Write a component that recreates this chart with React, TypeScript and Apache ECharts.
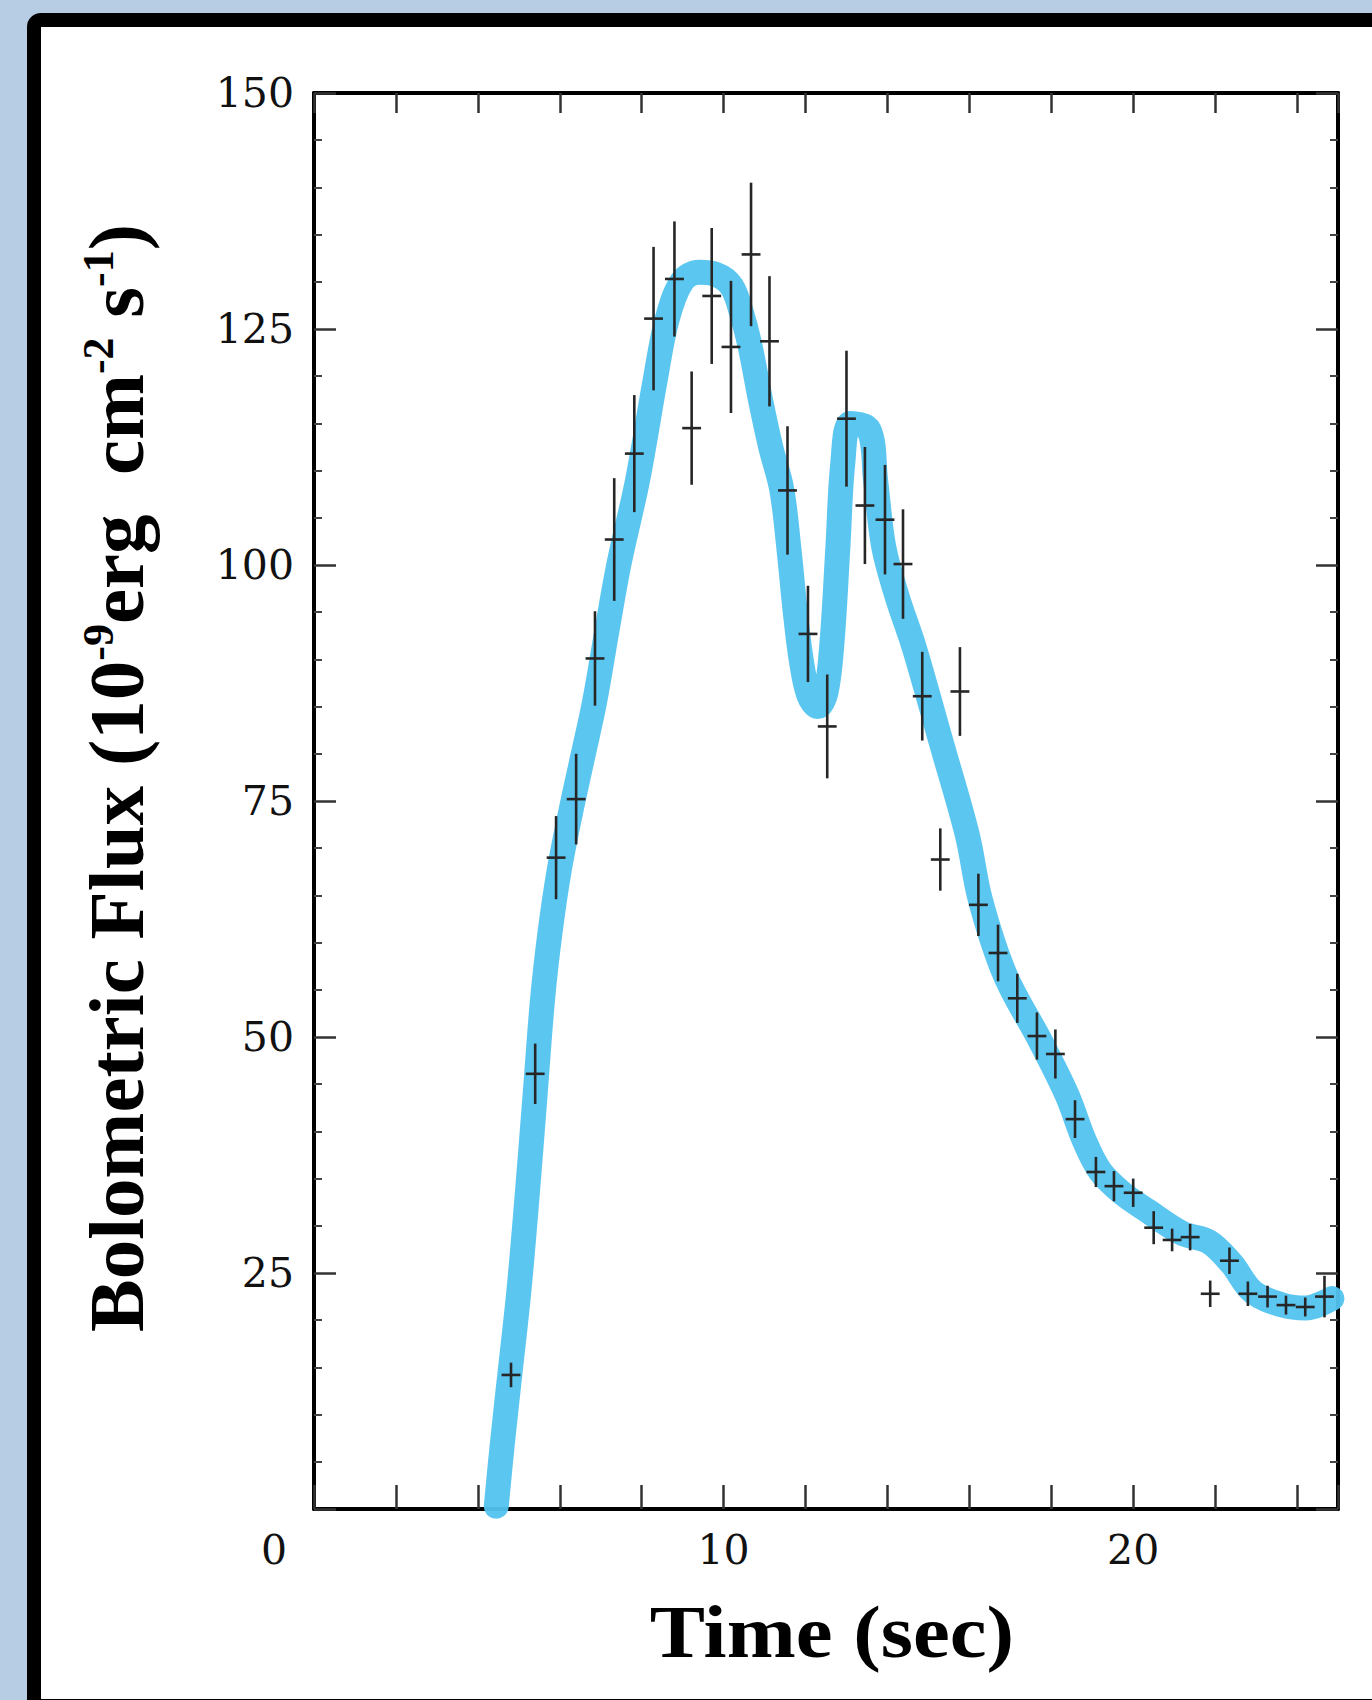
import React, { useEffect, useRef } from 'react';
import * as echarts from 'echarts';

// Smooth model curve (blue band)
const curveTime = [4.45, 4.6, 4.8, 5.0, 5.2, 5.4, 5.58, 5.76, 5.98, 6.25, 6.55, 6.85, 7.15, 7.45, 7.9, 8.33, 8.62, 8.98, 9.4, 9.8, 10.2, 10.45, 10.65, 10.9, 11.15, 11.42, 11.6, 11.75, 11.9, 12.08, 12.3, 12.5, 12.65, 12.79, 12.91, 13.1, 13.55, 13.71, 13.91, 14.24, 14.65, 15.32, 15.95, 16.27, 16.88, 17.73, 18.39, 18.79, 19.19, 19.72, 20.38, 21.2, 21.85, 22.4, 22.92, 23.65, 24.22, 24.85];
const curveFlux = [0.3, 7.0, 15.0, 23.0, 33.0, 44.0, 54.0, 61.0, 67.5, 73.5, 79.5, 85.5, 93.0, 100.2, 109.0, 119.6, 126.0, 130.0, 131.0, 130.8, 129.5, 126.5, 123.1, 117.5, 112.5, 108.0, 101.5, 95.0, 89.8, 86.2, 85.0, 86.5, 92.0, 101.9, 110.8, 115.0, 114.3, 109.0, 101.9, 96.6, 91.3, 81.1, 71.4, 64.5, 56.5, 49.6, 43.8, 39.2, 35.8, 33.5, 31.5, 29.2, 28.3, 26.0, 23.0, 21.6, 21.3, 22.3];

// Observed data points with error bars
const obsTime = [4.81, 5.4, 5.91, 6.4, 6.86, 7.33, 7.82, 8.29, 8.8, 9.22, 9.71, 10.18, 10.67, 11.12, 11.56, 12.06, 12.53, 13.0, 13.45, 13.94, 14.38, 14.85, 15.29, 15.77, 16.22, 16.7, 17.17, 17.65, 18.1, 18.58, 19.09, 19.53, 20.0, 20.5, 20.95, 21.39, 21.88, 22.35, 22.8, 23.28, 23.73, 24.2, 24.67];
const obsFlux = [14.2, 46.1, 69.0, 75.2, 90.1, 102.7, 111.8, 126.1, 130.3, 114.5, 128.5, 123.1, 132.9, 123.7, 107.9, 92.7, 82.9, 115.5, 106.3, 104.8, 100.1, 86.1, 68.8, 86.6, 64.0, 58.9, 54.1, 50.1, 48.2, 41.3, 35.7, 34.2, 33.5, 29.8, 28.5, 28.8, 22.8, 26.3, 22.8, 22.5, 21.6, 21.4, 22.5];
const obsErr = [1.3, 3.2, 4.4, 4.8, 5.0, 6.5, 6.2, 7.6, 6.1, 6.0, 7.2, 7.0, 7.6, 6.9, 6.8, 5.1, 5.5, 7.2, 6.2, 5.8, 5.8, 4.7, 3.3, 4.7, 3.3, 3.0, 2.6, 2.5, 2.6, 2.0, 1.6, 1.6, 1.5, 1.75, 1.2, 1.4, 1.4, 1.4, 1.3, 1.15, 1.0, 1.0, 2.2];

const xLabelValues = [0, 10, 20];
const yLabelValues = [25, 50, 75, 100, 125, 150];
const xTitle = 'Time (sec)';
const yTitleParts = ['Bolometric Flux (10', '-9', 'erg  cm', '-2', ' s', '-1', ')'];

export default function App() {
  const ref = useRef<HTMLDivElement>(null);

  useEffect(() => {
    if (!ref.current) return;
    const chart = echarts.init(ref.current, null, { renderer: 'svg' });

    const curveData = curveTime.map((t, i) => [t, curveFlux[i]]);
    const obsData = obsTime.map((t, i) => [t, obsFlux[i], obsErr[i]]);
    const HALF = 0.23;
    const barColor = '#262626';

    const labelFont = 'DejaVu Serif';
    const titleFont = 'Liberation Serif';
    const lineCol = '#000';
    const tickStyle = { color: '#333', width: 2.5 };

    const yRich = yTitleParts
      .map((p, i) => (i % 2 === 0 ? `{m|${p}}` : `{s|${p}}`))
      .join('');

    const xLabelFmt = (v: number) => {
      if (v === 0) return '{o|0}';
      return xLabelValues.includes(v) ? String(v) : '';
    };
    const yLabelFmt = (v: number) => (yLabelValues.includes(v) ? String(v) : '');

    const baseX = {
      type: 'value',
      min: 0,
      max: 25,
      interval: 2,
      splitLine: { show: false },
      axisLine: { show: true, onZero: false, lineStyle: { color: lineCol, width: 4 } },
    };
    const baseY = {
      type: 'value',
      min: 0,
      max: 150,
      interval: 25,
      splitLine: { show: false },
      axisLine: { show: true, onZero: false, lineStyle: { color: lineCol, width: 4 } },
      minorTick: { show: true, splitNumber: 5, length: 8, lineStyle: { color: '#444', width: 2 } },
    };

    const option: any = {
      animation: false,
      grid: { left: 314, top: 93, right: 34, bottom: 191, show: false },
      xAxis: [
        {
          ...baseX,
          position: 'bottom',
          axisTick: { show: true, inside: true, length: 24, lineStyle: tickStyle },
          axisLabel: {
            show: true,
            margin: 20,
            fontFamily: labelFont,
            fontSize: 41,
            color: '#111',
            formatter: xLabelFmt,
            rich: {
              o: { fontFamily: labelFont, fontSize: 41, color: '#111', padding: [0, 80, 0, 0] },
            },
          },
        },
        {
          ...baseX,
          position: 'top',
          axisTick: { show: true, inside: true, length: 20, lineStyle: tickStyle },
          axisLabel: { show: false },
        },
      ],
      yAxis: [
        {
          ...baseY,
          position: 'left',
          axisTick: { show: true, inside: true, length: 22, lineStyle: tickStyle },
          axisLabel: {
            show: true,
            margin: 20,
            fontFamily: labelFont,
            fontSize: 41,
            color: '#111',
            formatter: yLabelFmt,
          },
        },
        {
          ...baseY,
          position: 'right',
          axisTick: { show: true, inside: true, length: 22, lineStyle: tickStyle },
          axisLabel: { show: false },
        },
      ],
      graphic: [
        {
          type: 'text',
          x: 116,
          y: 778,
          rotation: Math.PI / 2,
          style: {
            text: yRich,
            align: 'center',
            verticalAlign: 'middle',
            fill: '#000',
            rich: {
              m: { fontFamily: titleFont, fontWeight: 'bold', fontSize: 79, fill: '#000' },
              s: { fontFamily: titleFont, fontWeight: 'bold', fontSize: 44, fill: '#000', verticalAlign: 'top' },
            },
          },
        },
        {
          type: 'text',
          x: 832,
          y: 1632,
          scaleX: 1.12,
          style: {
            text: xTitle,
            align: 'center',
            verticalAlign: 'middle',
            fill: '#000',
            fontFamily: titleFont,
            fontWeight: 'bold',
            fontSize: 74,
          },
        },
      ],
      series: [
        {
          type: 'line',
          data: curveData,
          smooth: 0.35,
          symbol: 'none',
          showSymbol: false,
          clip: false,
          z: 2,
          lineStyle: { color: '#52c3ef', width: 25, cap: 'round', join: 'round', opacity: 0.95 },
        },
        {
          type: 'custom',
          data: obsData,
          z: 3,
          encode: { x: 0, y: 1 },
          renderItem: (params: any, api: any) => {
            const x = api.value(0);
            const y = api.value(1);
            const e = api.value(2);
            const top = api.coord([x, y + e]);
            const bot = api.coord([x, y - e]);
            const l = api.coord([x - HALF, y]);
            const r = api.coord([x + HALF, y]);
            return {
              type: 'group',
              children: [
                { type: 'line', shape: { x1: top[0], y1: top[1], x2: bot[0], y2: bot[1] }, style: { stroke: barColor, lineWidth: 2.6 } },
                { type: 'line', shape: { x1: l[0], y1: l[1], x2: r[0], y2: r[1] }, style: { stroke: barColor, lineWidth: 2.6 } },
              ],
            };
          },
        },
      ],
    };

    chart.setOption(option);
    return () => chart.dispose();
  }, []);

  return (
    <div style={{ position: 'absolute', left: 0, top: 0, width: 1372, height: 1700, overflow: 'hidden', background: '#b7cde3' }}>
      <div
        style={{
          position: 'absolute',
          left: 27,
          top: 13,
          width: 1372,
          height: 1700,
          boxSizing: 'border-box',
          border: '14px solid #000',
          borderRadius: 14,
          background: '#fff',
        }}
      />
      <div ref={ref} style={{ position: 'absolute', left: 0, top: 0, width: 1372, height: 1700 }} />
    </div>
  );
}
